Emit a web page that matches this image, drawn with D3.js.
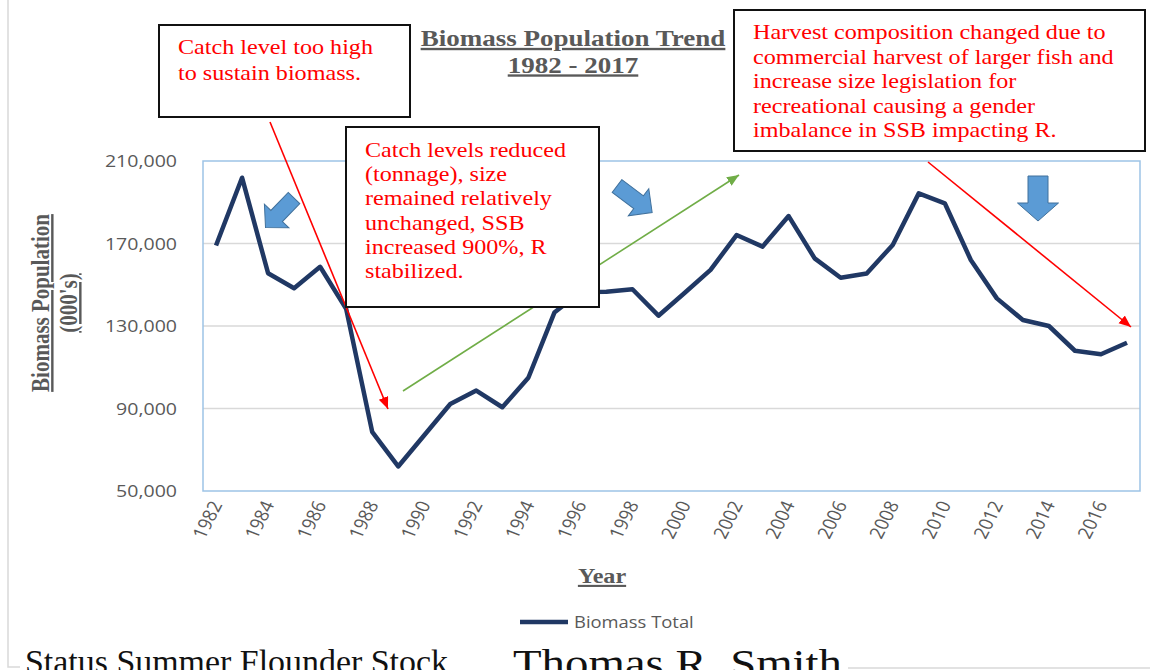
<!DOCTYPE html>
<html>
<head>
<meta charset="utf-8">
<script src="https://cdn.jsdelivr.net/npm/d3@7"></script>
<style>
	body { margin: 0; background: #fff; }
	svg { display: block; }
</style>
</head>
<body>
<div id="chart"></div>
<script>

function whenDocumentLoaded(action) {
	if (document.readyState === "loading") {
		document.addEventListener("DOMContentLoaded", action);
	} else {
		action();
	}
}

const YEARS = [1982, 1983, 1984, 1985, 1986, 1987, 1988, 1989, 1990, 1991, 1992, 1993,
	1994, 1995, 1996, 1997, 1998, 1999, 2000, 2001, 2002, 2003, 2004, 2005,
	2006, 2007, 2008, 2009, 2010, 2011, 2012, 2013, 2014, 2015, 2016, 2017];
const BIOMASS = [169000, 201900, 155600, 148300, 158700, 138300, 78700, 61900, 77000, 92200, 98700, 90600,
	104900, 136500, 146500, 146600, 147800, 135000, 146000, 157200, 174100, 168500, 183300, 162800,
	153400, 155500, 169300, 194300, 189500, 162000, 143400, 132900, 130000, 118000, 116300, 121900];
const Y_TICKS = [50000, 90000, 130000, 170000, 210000];
const X_TICKS = YEARS.filter((d, i) => i % 2 === 0);
const GRID_VALUES = [90000, 130000, 170000];

const TITLE = ["Biomass Population Trend", "1982 - 2017"];
const Y_TITLE = ["Biomass Population", "(000's)"];
const X_TITLE = "Year";
const SERIES_NAME = "Biomass Total";
const NOTE_HIGH = ["Catch level too high", "to sustain biomass."];
const NOTE_REDUCED = ["Catch levels reduced", "(tonnage), size", "remained relatively", "unchanged, SSB", "increased 900%, R", "stabilized."];
const NOTE_HARVEST = ["Harvest composition changed due to", "commercial harvest of larger fish and", "increase size legislation for", "recreational causing a gender", "imbalance in SSB impacting R."];
const FOOTER = ["Status Summer Flounder Stock", "Thomas R. Smith"];

// the source picture is stretched sideways, so text gets the same stretch
const SX = 1.15;
const SERIF = "'Liberation Serif', 'Times New Roman', serif";
const SANS = "'Open Sans', sans-serif";
const PLOT = { left: 203, right: 1140, top: 161, bottom: 491 };

class TrendChart {
	constructor(containerId) {
		this.svg = d3.select(`#${containerId}`).append("svg")
			.attr("width", 1150)
			.attr("height", 670);
		this.scale = {};
		this.scale.x = d3.scalePoint()
			.domain(YEARS)
			.range([PLOT.left, PLOT.right])
			.padding(0.5);
		this.scale.y = d3.scaleLinear()
			.domain([50000, 210000])
			.range([PLOT.bottom, PLOT.top]);
	}

	defs() {
		const defs = this.svg.append("defs");
		[["head-red", "#ff0000"], ["head-green", "#70ad47"]].forEach(([id, color]) => {
			defs.append("marker")
				.attr("id", id)
				.attr("markerUnits", "userSpaceOnUse")
				.attr("markerWidth", 13)
				.attr("markerHeight", 11)
				.attr("refX", 12)
				.attr("refY", 5)
				.attr("orient", "auto")
				.append("path")
				.attr("d", "M0,0 L12,5 L0,10 Z")
				.attr("fill", color);
		});
	}

	frame() {
		this.svg.append("path")
			.attr("d", "M8,0 V667 H20 M848,668 H1150")
			.attr("fill", "none")
			.attr("stroke", "#d9d9d9")
			.attr("stroke-width", 1.5);
	}

	plot() {
		const x = this.scale.x, y = this.scale.y;

		this.svg.append("g")
			.selectAll("line")
			.data(GRID_VALUES)
			.enter()
			.append("line")
			.attr("x1", PLOT.left)
			.attr("x2", PLOT.right)
			.attr("y1", (d) => y(d))
			.attr("y2", (d) => y(d))
			.attr("stroke", "#d9d9d9")
			.attr("stroke-width", 1.5);

		this.svg.append("rect")
			.attr("x", PLOT.left)
			.attr("y", PLOT.top)
			.attr("width", PLOT.right - PLOT.left)
			.attr("height", PLOT.bottom - PLOT.top)
			.attr("fill", "none")
			.attr("stroke", "#9dc3e6")
			.attr("stroke-width", 1.5);

		const yAxis = d3.axisLeft(y).tickValues(Y_TICKS).tickSize(0).tickFormat(d3.format(","));
		const gy = this.svg.append("g")
			.attr("transform", `translate(${PLOT.left},0)`)
			.call(yAxis);
		gy.select(".domain").remove();
		gy.selectAll("text")
			.attr("x", 0)
			.attr("dy", "0.35em")
			.attr("transform", `translate(-26,0) scale(${SX},1)`)
			.attr("fill", "#595959")
			.style("font", `17px ${SANS}`);

		const xAxis = d3.axisBottom(x).tickValues(X_TICKS).tickSize(0);
		const gx = this.svg.append("g")
			.attr("transform", `translate(0,${PLOT.bottom})`)
			.call(xAxis);
		gx.select(".domain").remove();
		gx.selectAll("text")
			.attr("x", 0)
			.attr("y", 0)
			.attr("dy", "0.35em")
			.attr("text-anchor", "end")
			.attr("transform", `translate(0,11) scale(${SX},1) rotate(-66)`)
			.attr("fill", "#595959")
			.style("font", `17px ${SANS}`);

		const line = d3.line()
			.x((d, i) => x(YEARS[i]))
			.y((d) => y(d));
		this.svg.append("path")
			.datum(BIOMASS)
			.attr("d", line)
			.attr("fill", "none")
			.attr("stroke", "#203864")
			.attr("stroke-width", 4.5)
			.attr("stroke-linejoin", "round");
	}

	arrows() {
		const pointers = [
			{ x1: 270, y1: 122, x2: 388, y2: 409, head: "head-red", color: "#ff0000" },
			{ x1: 403, y1: 391, x2: 739, y2: 175, head: "head-green", color: "#70ad47" },
			{ x1: 928, y1: 162, x2: 1131, y2: 327, head: "head-red", color: "#ff0000" }
		];
		this.svg.append("g")
			.selectAll("line")
			.data(pointers)
			.enter()
			.append("line")
			.attr("x1", (d) => d.x1)
			.attr("y1", (d) => d.y1)
			.attr("x2", (d) => d.x2)
			.attr("y2", (d) => d.y2)
			.attr("stroke", (d) => d.color)
			.attr("stroke-width", 1.6)
			.attr("marker-end", (d) => `url(#${d.head})`);

		// block arrows: tail point, angle, length, shaft / head half widths, head length
		const blocks = [
			{ x: 294, y: 198, a: 134, L: 41, s: 8, h: 17, hl: 16 },
			{ x: 617, y: 186, a: 37, L: 44, s: 8, h: 17, hl: 17 },
			{ x: 1038, y: 176, a: 90, L: 45, s: 10, h: 20.5, hl: 18 }
		];
		this.svg.append("g")
			.selectAll("path")
			.data(blocks)
			.enter()
			.append("path")
			.attr("d", (d) => `M0,${-d.s} H${d.L - d.hl} V${-d.h} L${d.L},0 L${d.L - d.hl},${d.h} V${d.s} H0 Z`)
			.attr("transform", (d) => `translate(${d.x},${d.y}) rotate(${d.a})`)
			.attr("fill", "#5b9bd5")
			.attr("stroke", "#41719c")
			.attr("stroke-width", 1);
	}

	notes() {
		const boxes = [
			{ x: 159, y: 25, w: 251, h: 92, lines: NOTE_HIGH, tx: 178, ty: 54, lh: 26 },
			{ x: 346, y: 127, w: 253, h: 180, lines: NOTE_REDUCED, tx: 365, ty: 157, lh: 24.2 },
			{ x: 734, y: 10, w: 411, h: 141, lines: NOTE_HARVEST, tx: 753, ty: 39, lh: 24.5 }
		];
		boxes.forEach((b) => {
			const g = this.svg.append("g");
			g.append("rect")
				.attr("x", b.x)
				.attr("y", b.y)
				.attr("width", b.w)
				.attr("height", b.h)
				.attr("fill", "#fff")
				.attr("stroke", "#111")
				.attr("stroke-width", 2);
			g.selectAll("text")
				.data(b.lines)
				.enter()
				.append("text")
				.attr("transform", (d, i) => `translate(${b.tx},${b.ty + i * b.lh}) scale(${SX},1)`)
				.attr("fill", "#ff0000")
				.style("font", `21px ${SERIF}`)
				.text((d) => d);
		});
	}

	labels() {
		this.svg.selectAll(".title")
			.data(TITLE)
			.enter()
			.append("text")
			.attr("class", "title")
			.attr("transform", (d, i) => `translate(573,${46 + i * 26.5}) scale(${SX},1)`)
			.attr("text-anchor", "middle")
			.attr("fill", "#595959")
			.style("font", `bold 23.5px ${SERIF}`)
			.style("text-decoration", "underline")
			.text((d) => d);

		this.svg.selectAll(".ytitle")
			.data(Y_TITLE)
			.enter()
			.append("text")
			.attr("class", "ytitle")
			.attr("transform", (d, i) => `translate(${49 + i * 28},303) scale(${SX},1) rotate(-90)`)
			.attr("text-anchor", "middle")
			.attr("fill", "#595959")
			.style("font", `bold 21px ${SERIF}`)
			.style("text-decoration", "underline")
			.text((d) => d);

		this.svg.append("text")
			.attr("transform", `translate(602,583) scale(${SX},1)`)
			.attr("text-anchor", "middle")
			.attr("fill", "#595959")
			.style("font", `bold 21px ${SERIF}`)
			.style("text-decoration", "underline")
			.text(X_TITLE);

		// legend
		this.svg.append("line")
			.attr("x1", 520)
			.attr("x2", 568)
			.attr("y1", 622)
			.attr("y2", 622)
			.attr("stroke", "#203864")
			.attr("stroke-width", 4.5);
		this.svg.append("text")
			.attr("transform", `translate(574,628) scale(${SX},1)`)
			.attr("fill", "#595959")
			.style("font", `16px ${SANS}`)
			.text(SERIES_NAME);

		// footer text, cut by the picture edge as in the source
		this.svg.append("text")
			.attr("x", 25)
			.attr("y", 673)
			.attr("textLength", 423)
			.attr("lengthAdjust", "spacingAndGlyphs")
			.attr("fill", "#111")
			.style("font", `33px ${SERIF}`)
			.text(FOOTER[0]);
		this.svg.append("text")
			.attr("x", 513)
			.attr("y", 677)
			.attr("textLength", 329)
			.attr("lengthAdjust", "spacingAndGlyphs")
			.attr("fill", "#111")
			.style("font", `40px ${SERIF}`)
			.text(FOOTER[1]);
	}

	show() {
		this.defs();
		this.frame();
		this.plot();
		this.arrows();
		this.notes();
		this.labels();
	}
}

whenDocumentLoaded(() => {
	const chart = new TrendChart("chart");
	chart.show();
});

</script>
</body>
</html>
